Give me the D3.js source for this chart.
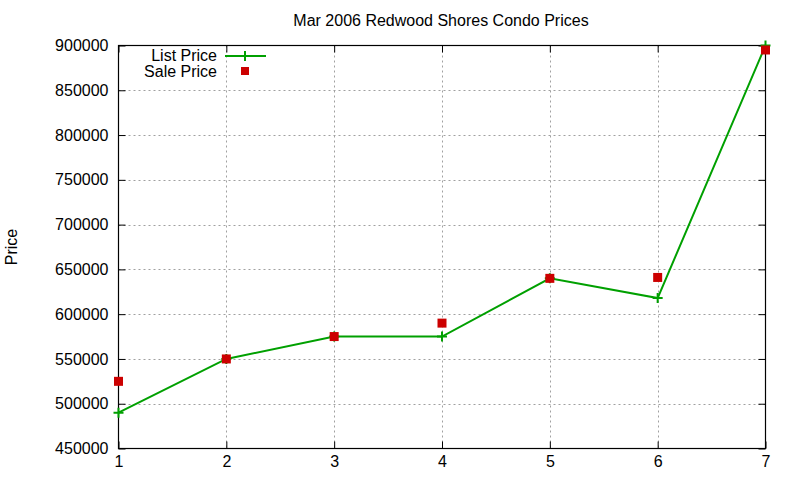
<!DOCTYPE html>
<html>
<head>
<meta charset="utf-8">
<script src="https://cdn.jsdelivr.net/npm/d3@7"></script>
<style>
body { margin: 0; background: #fff; }
text { font-family: "Liberation Sans", Arial, sans-serif; fill: #000; }
</style>
</head>
<body>
<svg id="chart" width="800" height="480"></svg>
<script>
var xValues = [1, 2, 3, 4, 5, 6, 7];
var listPrice = [490000, 550000, 575000, 575000, 640000, 618000, 900000];
var salePrice = [525000, 550000, 575000, 590000, 640000, 641000, 895000];
var yTicks = [450000, 500000, 550000, 600000, 650000, 700000, 750000, 800000, 850000, 900000];

var svg = d3.select("#chart");
var plotLeft = 118.5, plotRight = 765.5, plotTop = 45.5, plotBottom = 448.5;

var x = d3.scaleLinear().domain([1, 7]).range([plotLeft, plotRight]);
var y = d3.scaleLinear().domain([450000, 900000]).range([plotBottom, plotTop]);

// grid
var grid = svg.append("g");
grid.selectAll(".gx").data(xValues.slice(1, -1)).enter().append("line")
	.attr("x1", function(d){ return Math.round(x(d)) + 0.5; })
	.attr("x2", function(d){ return Math.round(x(d)) + 0.5; })
	.attr("y1", plotTop).attr("y2", plotBottom)
	.attr("stroke", "#a0a0a0").attr("stroke-dasharray", "2,3");
grid.selectAll(".gy").data(yTicks.slice(1, -1)).enter().append("line")
	.attr("y1", function(d){ return Math.round(y(d)) + 0.5; })
	.attr("y2", function(d){ return Math.round(y(d)) + 0.5; })
	.attr("x1", plotLeft).attr("x2", plotRight)
	.attr("stroke", "#a0a0a0").attr("stroke-dasharray", "2,3");

// axes with inward ticks
var yAxis = d3.axisLeft(y).tickValues(yTicks).tickSize(-7).tickPadding(10).tickFormat(d3.format("d"));
var gy = svg.append("g").attr("transform", "translate(" + plotLeft + ",0)").call(yAxis);
var gyr = svg.append("g").attr("transform", "translate(" + plotRight + ",0)")
	.call(d3.axisRight(y).tickValues(yTicks).tickSize(-7).tickFormat(""));
var xAxis = d3.axisBottom(x).tickValues(xValues).tickSize(-7).tickPadding(7).tickFormat(d3.format("d"));
var gx = svg.append("g").attr("transform", "translate(0," + plotBottom + ")").call(xAxis);
var gxt = svg.append("g").attr("transform", "translate(0," + plotTop + ")")
	.call(d3.axisTop(x).tickValues(xValues).tickSize(-7).tickFormat(""));

[gy, gyr, gx, gxt].forEach(function(g){
	g.select(".domain").remove();
	g.selectAll("line").attr("stroke", "#000");
	g.selectAll("text").style("font-size", "16px").attr("fill", "#000");
});

svg.append("rect").attr("x", plotLeft).attr("y", plotTop)
	.attr("width", plotRight - plotLeft).attr("height", plotBottom - plotTop)
	.attr("fill", "none").attr("stroke", "#000").attr("stroke-width", 1.2);

// list price line
var line = d3.line().x(function(d, i){ return x(xValues[i]); }).y(function(d){ return y(d); });
svg.append("path").datum(listPrice).attr("d", line)
	.attr("fill", "none").attr("stroke", "#00a000").attr("stroke-width", 2);
svg.selectAll(".lp").data(listPrice).enter().append("path")
	.attr("d", function(d, i){
		var cx = x(xValues[i]), cy = y(d);
		return "M" + (cx - 5) + "," + cy + "H" + (cx + 5) + "M" + cx + "," + (cy - 5) + "V" + (cy + 5);
	})
	.attr("stroke", "#00a000").attr("stroke-width", 2);

// sale price points
svg.selectAll(".sp").data(salePrice).enter().append("rect")
	.attr("x", function(d, i){ return x(xValues[i]) - 4.5; })
	.attr("y", function(d){ return y(d) - 4.5; })
	.attr("width", 9).attr("height", 9)
	.attr("fill", "#cc0000");

// legend
svg.append("text").attr("x", 217).attr("y", 61).attr("text-anchor", "end")
	.style("font-size", "16px").text("List Price");
svg.append("line").attr("x1", 225).attr("x2", 266).attr("y1", 56).attr("y2", 56)
	.attr("stroke", "#00a000").attr("stroke-width", 2);
svg.append("path").attr("d", "M240,56H250M245,51V61").attr("stroke", "#00a000").attr("stroke-width", 2);
svg.append("text").attr("x", 217).attr("y", 77).attr("text-anchor", "end")
	.style("font-size", "16px").text("Sale Price");
svg.append("rect").attr("x", 241).attr("y", 67).attr("width", 8).attr("height", 8).attr("fill", "#cc0000");

// titles
svg.append("text").attr("x", 441).attr("y", 26).attr("text-anchor", "middle")
	.style("font-size", "16px").text("Mar 2006 Redwood Shores Condo Prices");
svg.append("text").attr("transform", "translate(17,247) rotate(-90)").attr("text-anchor", "middle")
	.style("font-size", "16px").text("Price");
</script>
</body>
</html>
